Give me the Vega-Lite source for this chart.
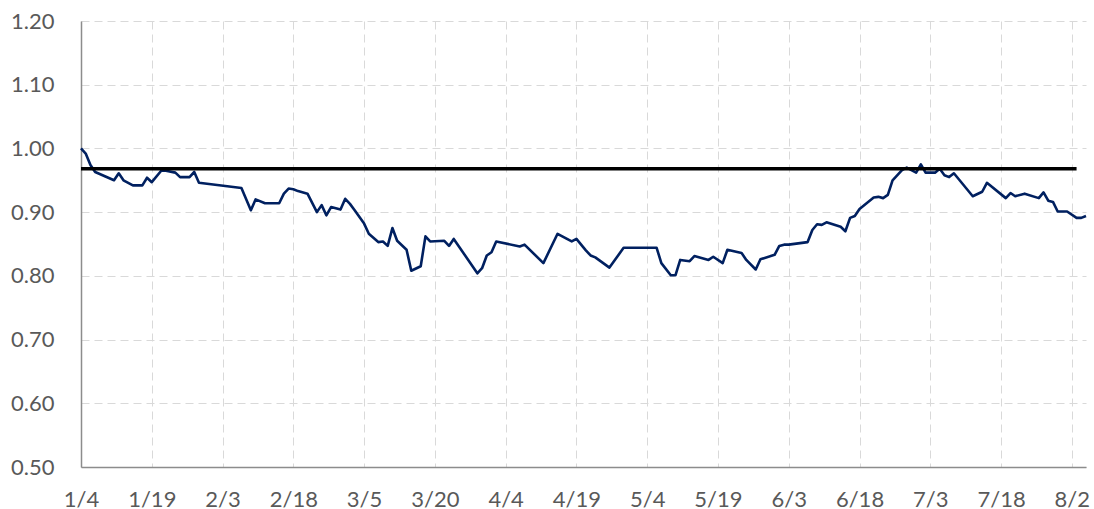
{
  "$schema": "https://vega.github.io/schema/vega-lite/v6.json",
  "width": 1005,
  "height": 446,
  "autosize": {"type": "none"},
  "padding": {"left": 81, "top": 21, "right": 8, "bottom": 42},
  "background": "white",
  "config": {
    "view": {"stroke": null},
    "axis": {
      "labelFont": "Lato",
      "labelFontSize": 22,
      "labelColor": "#595959",
      "ticks": false,
      "tickSize": 0,
      "grid": true,
      "gridColor": "#d9d9d9",
      "gridDash": [8, 5],
      "gridWidth": 1,
      "domainColor": "#8c8c8c",
      "domainWidth": 1.5,
      "title": null
    }
  },
  "datasets": {
    "series": [
      {"date": "2019-01-04", "v": 1.000},
      {"date": "2019-01-05", "v": 0.992},
      {"date": "2019-01-06", "v": 0.974},
      {"date": "2019-01-07", "v": 0.963},
      {"date": "2019-01-11", "v": 0.950},
      {"date": "2019-01-12", "v": 0.961},
      {"date": "2019-01-13", "v": 0.950},
      {"date": "2019-01-15", "v": 0.942},
      {"date": "2019-01-17", "v": 0.942},
      {"date": "2019-01-18", "v": 0.954},
      {"date": "2019-01-19", "v": 0.947},
      {"date": "2019-01-21", "v": 0.965},
      {"date": "2019-01-22", "v": 0.965},
      {"date": "2019-01-24", "v": 0.962},
      {"date": "2019-01-25", "v": 0.955},
      {"date": "2019-01-27", "v": 0.955},
      {"date": "2019-01-28", "v": 0.963},
      {"date": "2019-01-29", "v": 0.946},
      {"date": "2019-02-07", "v": 0.938},
      {"date": "2019-02-09", "v": 0.903},
      {"date": "2019-02-10", "v": 0.920},
      {"date": "2019-02-12", "v": 0.914},
      {"date": "2019-02-15", "v": 0.914},
      {"date": "2019-02-16", "v": 0.929},
      {"date": "2019-02-17", "v": 0.937},
      {"date": "2019-02-18", "v": 0.936},
      {"date": "2019-02-19", "v": 0.933},
      {"date": "2019-02-21", "v": 0.929},
      {"date": "2019-02-23", "v": 0.900},
      {"date": "2019-02-24", "v": 0.911},
      {"date": "2019-02-25", "v": 0.895},
      {"date": "2019-02-26", "v": 0.908},
      {"date": "2019-02-28", "v": 0.904},
      {"date": "2019-03-01", "v": 0.921},
      {"date": "2019-03-02", "v": 0.913},
      {"date": "2019-03-03", "v": 0.903},
      {"date": "2019-03-05", "v": 0.882},
      {"date": "2019-03-06", "v": 0.866},
      {"date": "2019-03-08", "v": 0.853},
      {"date": "2019-03-09", "v": 0.854},
      {"date": "2019-03-10", "v": 0.847},
      {"date": "2019-03-11", "v": 0.875},
      {"date": "2019-03-12", "v": 0.855},
      {"date": "2019-03-14", "v": 0.841},
      {"date": "2019-03-15", "v": 0.808},
      {"date": "2019-03-17", "v": 0.815},
      {"date": "2019-03-18", "v": 0.862},
      {"date": "2019-03-19", "v": 0.854},
      {"date": "2019-03-22", "v": 0.855},
      {"date": "2019-03-23", "v": 0.847},
      {"date": "2019-03-24", "v": 0.858},
      {"date": "2019-03-29", "v": 0.804},
      {"date": "2019-03-30", "v": 0.812},
      {"date": "2019-03-31", "v": 0.832},
      {"date": "2019-04-01", "v": 0.837},
      {"date": "2019-04-02", "v": 0.854},
      {"date": "2019-04-07", "v": 0.846},
      {"date": "2019-04-08", "v": 0.849},
      {"date": "2019-04-12", "v": 0.820},
      {"date": "2019-04-15", "v": 0.866},
      {"date": "2019-04-18", "v": 0.854},
      {"date": "2019-04-19", "v": 0.858},
      {"date": "2019-04-21", "v": 0.840},
      {"date": "2019-04-22", "v": 0.832},
      {"date": "2019-04-23", "v": 0.829},
      {"date": "2019-04-26", "v": 0.813},
      {"date": "2019-04-29", "v": 0.844},
      {"date": "2019-05-06", "v": 0.844},
      {"date": "2019-05-07", "v": 0.820},
      {"date": "2019-05-09", "v": 0.801},
      {"date": "2019-05-10", "v": 0.801},
      {"date": "2019-05-11", "v": 0.825},
      {"date": "2019-05-13", "v": 0.823},
      {"date": "2019-05-14", "v": 0.831},
      {"date": "2019-05-17", "v": 0.825},
      {"date": "2019-05-18", "v": 0.830},
      {"date": "2019-05-20", "v": 0.820},
      {"date": "2019-05-21", "v": 0.841},
      {"date": "2019-05-24", "v": 0.836},
      {"date": "2019-05-25", "v": 0.825},
      {"date": "2019-05-27", "v": 0.810},
      {"date": "2019-05-28", "v": 0.826},
      {"date": "2019-05-31", "v": 0.833},
      {"date": "2019-06-01", "v": 0.847},
      {"date": "2019-06-02", "v": 0.849},
      {"date": "2019-06-03", "v": 0.849},
      {"date": "2019-06-07", "v": 0.853},
      {"date": "2019-06-08", "v": 0.872},
      {"date": "2019-06-09", "v": 0.881},
      {"date": "2019-06-10", "v": 0.880},
      {"date": "2019-06-11", "v": 0.884},
      {"date": "2019-06-14", "v": 0.877},
      {"date": "2019-06-15", "v": 0.870},
      {"date": "2019-06-16", "v": 0.891},
      {"date": "2019-06-17", "v": 0.894},
      {"date": "2019-06-18", "v": 0.905},
      {"date": "2019-06-21", "v": 0.923},
      {"date": "2019-06-22", "v": 0.924},
      {"date": "2019-06-23", "v": 0.922},
      {"date": "2019-06-24", "v": 0.927},
      {"date": "2019-06-25", "v": 0.950},
      {"date": "2019-06-27", "v": 0.966},
      {"date": "2019-06-28", "v": 0.970},
      {"date": "2019-06-30", "v": 0.962},
      {"date": "2019-07-01", "v": 0.975},
      {"date": "2019-07-02", "v": 0.962},
      {"date": "2019-07-04", "v": 0.962},
      {"date": "2019-07-05", "v": 0.968},
      {"date": "2019-07-06", "v": 0.958},
      {"date": "2019-07-07", "v": 0.955},
      {"date": "2019-07-08", "v": 0.961},
      {"date": "2019-07-12", "v": 0.925},
      {"date": "2019-07-14", "v": 0.932},
      {"date": "2019-07-15", "v": 0.946},
      {"date": "2019-07-19", "v": 0.922},
      {"date": "2019-07-20", "v": 0.930},
      {"date": "2019-07-21", "v": 0.925},
      {"date": "2019-07-23", "v": 0.929},
      {"date": "2019-07-26", "v": 0.922},
      {"date": "2019-07-27", "v": 0.931},
      {"date": "2019-07-28", "v": 0.918},
      {"date": "2019-07-29", "v": 0.916},
      {"date": "2019-07-30", "v": 0.901},
      {"date": "2019-08-01", "v": 0.901},
      {"date": "2019-08-03", "v": 0.891},
      {"date": "2019-08-04", "v": 0.891},
      {"date": "2019-08-05", "v": 0.894}
    ],
    "ref": [
      {"date": "2019-01-04", "v": 0.968},
      {"date": "2019-08-03", "v": 0.968}
    ]
  },
  "encoding": {
    "x": {
      "field": "date",
      "type": "temporal",
      "scale": {
        "type": "utc",
        "domain": [
          {"year": 2019, "month": 1, "date": 4, "utc": true},
          {"year": 2019, "month": 8, "date": 5, "utc": true}
        ]
      },
      "axis": {
        "values": [
          {"year": 2019, "month": 1, "date": 4, "utc": true},
          {"year": 2019, "month": 1, "date": 19, "utc": true},
          {"year": 2019, "month": 2, "date": 3, "utc": true},
          {"year": 2019, "month": 2, "date": 18, "utc": true},
          {"year": 2019, "month": 3, "date": 5, "utc": true},
          {"year": 2019, "month": 3, "date": 20, "utc": true},
          {"year": 2019, "month": 4, "date": 4, "utc": true},
          {"year": 2019, "month": 4, "date": 19, "utc": true},
          {"year": 2019, "month": 5, "date": 4, "utc": true},
          {"year": 2019, "month": 5, "date": 19, "utc": true},
          {"year": 2019, "month": 6, "date": 3, "utc": true},
          {"year": 2019, "month": 6, "date": 18, "utc": true},
          {"year": 2019, "month": 7, "date": 3, "utc": true},
          {"year": 2019, "month": 7, "date": 18, "utc": true},
          {"year": 2019, "month": 8, "date": 2, "utc": true}
        ],
        "labelExpr": "utcFormat(datum.value, '%-m/%-d')",
        "labelPadding": 22,
        "labelOverlap": false,
        "labelFlush": false
      }
    },
    "y": {
      "field": "v",
      "type": "quantitative",
      "scale": {"domain": [0.5, 1.2], "nice": false, "zero": false},
      "axis": {
        "values": [0.5, 0.6, 0.7, 0.8, 0.9, 1.0, 1.1, 1.2],
        "format": ".2f",
        "labelPadding": 27
      }
    }
  },
  "layer": [
    {
      "data": {"name": "series"},
      "mark": {"type": "line", "color": "#002060", "strokeWidth": 2.6, "strokeJoin": "round"}
    },
    {
      "data": {"name": "ref"},
      "mark": {"type": "line", "color": "#000000", "strokeWidth": 3.6, "strokeCap": "butt"}
    }
  ]
}
